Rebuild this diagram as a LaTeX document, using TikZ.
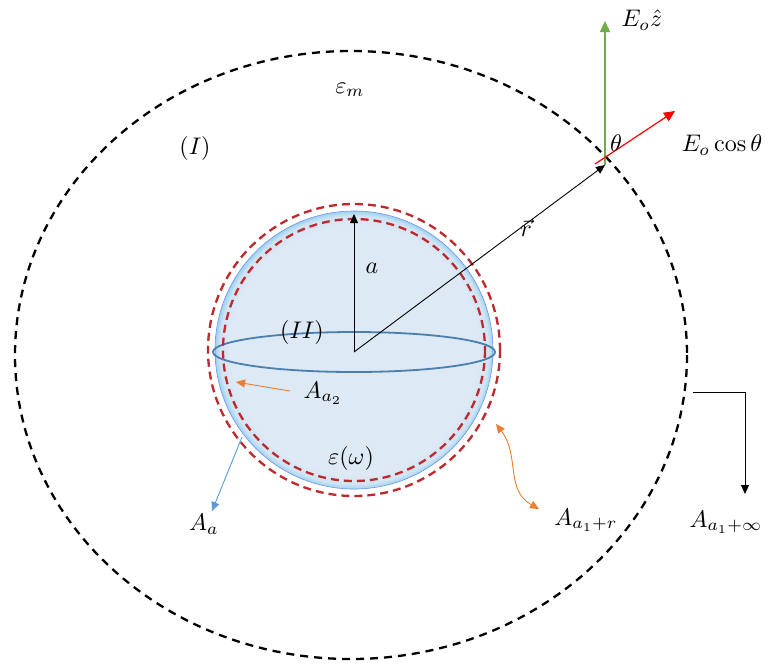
\documentclass[tikz,border=0pt]{standalone}
\usetikzlibrary{arrows.meta}
\definecolor{sfill}{HTML}{DDE9F5}
\definecolor{sfilltwo}{HTML}{CFE4F4}
\definecolor{srim}{HTML}{9CD2EF}
\definecolor{sline}{HTML}{4A7FB0}
\definecolor{rdash}{HTML}{C0282D}
\definecolor{gar}{HTML}{70AD47}
\definecolor{oar}{HTML}{ED7D31}
\definecolor{bar}{HTML}{5B9BD5}
\newcommand\bigtxt[1]{\scalebox{2.4}{#1}}
\pgfdeclareradialshading{sphereshade}{\pgfpoint{0bp}{0bp}}{color(0bp)=(sfill); color(22.5bp)=(sfill); color(24.2bp)=(sfilltwo); color(25bp)=(srim); color(50bp)=(srim)}
\tikzset{
  lbl/.style={inner sep=0pt},
  tip/.style={-{Triangle[width=8pt,length=9pt]}},
  bigdash/.style={line width=2.3pt, dash pattern=on 8pt off 6pt},
  reddash/.style={line width=2.3pt, rdash, dash pattern=on 8pt off 5pt},
}
\begin{document}
\begin{tikzpicture}[x=1pt,y=-1pt]
\useasboundingbox (0,0) rectangle (778,665);
\fill[white] (0,0) rectangle (778,665);
% outer region boundary
\draw[bigdash] (351,355) ellipse [x radius=336, y radius=304];
% sphere
\coordinate (O) at (354,350);
\shade[shading=sphereshade] (O) circle [radius=139];
\draw[line width=0.6pt, srim!70!blue] (O) circle [radius=139];
\draw[sline, line width=1.8pt] (354,352) ellipse [x radius=141, y radius=20];
\draw[reddash] (O) circle [radius=131];
\draw[reddash] (O) circle [radius=146];
% coordinates
\coordinate (C) at (354,352);
\coordinate (Top) at (354,214);
\coordinate (P) at (605,165);
\coordinate (Zt) at (605,21);
\coordinate (Rt) at (675,111);
% radius a
\draw[tip, line width=0.9pt] (C) -- (Top);
\node[lbl] (la) at (372,268) {\bigtxt{$a$}};
% r vector
\draw[tip, line width=0.9pt] (C) -- (P);
\node[lbl] (lr) at (526,228) {\bigtxt{$\vec r$}};
% field arrows
\draw[-{Triangle[width=10pt,length=11pt]}, gar, line width=1.3pt] (P) -- (Zt);
\node[lbl] (lz) at (642,20) {\bigtxt{$E_o\hat z$}};
\draw[-{Triangle[width=10pt,length=11pt]}, red, line width=1.2pt] (595,164) -- (Rt);
\node[lbl] (lt) at (616,143) {\bigtxt{$\theta$}};
\node[lbl] (lc) at (722,145) {\bigtxt{$E_o\cos\theta$}};
% region labels
\node[lbl] (lem) at (350,90) {\bigtxt{$\varepsilon_m$}};
\node[lbl] (lI) at (195,148) {\bigtxt{$(I)$}};
\node[lbl] (lII) at (302,332) {\bigtxt{$(II)$}};
\node[lbl] (lew) at (351,458) {\bigtxt{$\varepsilon(\omega)$}};
% A_{a_2}
\node[lbl] (la2) at (323,393) {\bigtxt{$A_{a_2}$}};
\coordinate (a2s) at (290,391);
\coordinate (a2e) at (236,382);
\draw[tip, oar, line width=0.9pt] (a2s) -- (a2e);
% A_a
\node[lbl] (laa) at (204,524) {\bigtxt{$A_a$}};
\coordinate (aas) at (242,437);
\coordinate (aae) at (212,511);
\draw[tip, bar, line width=0.9pt] (aas) -- (aae);
% A_{a_1+r}
\node[lbl] (la1r) at (586,520) {\bigtxt{$A_{a_1+r}$}};
\coordinate (rs) at (496,424);
\coordinate (re) at (539,509);
\draw[{Triangle[width=8pt,length=9pt]}-{Triangle[width=8pt,length=9pt]}, oar, line width=0.9pt] (rs) .. controls (520,455) and (505,490) .. (re);
% A_{a_1+inf}
\node[lbl] (la1i) at (726,522) {\bigtxt{$A_{a_1+\infty}$}};
\coordinate (is) at (693,392);
\coordinate (ic) at (745,392);
\coordinate (ie) at (745,494);
\draw[tip, line width=0.9pt] (is) -- (ic) -- (ie);
\end{tikzpicture}
\end{document}
